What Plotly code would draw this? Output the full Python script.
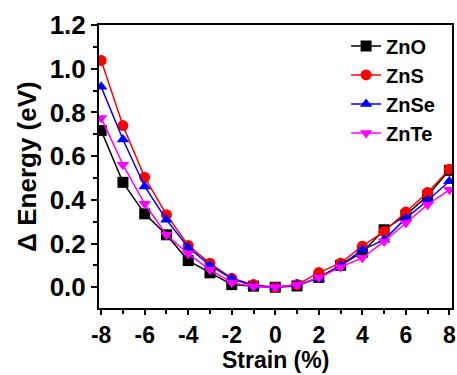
import plotly.graph_objects as go

strain = [-8, -7, -6, -5, -4, -3, -2, -1, 0, 1, 2, 3, 4, 5, 6, 7, 8]
zno = [0.717, 0.48, 0.336, 0.24, 0.122, 0.066, 0.012, 0.005, 0.0, 0.006, 0.045, 0.10, 0.16, 0.263, 0.33, 0.42, 0.535]
zns = [1.038, 0.74, 0.503, 0.332, 0.191, 0.11, 0.041, 0.012, 0.0, 0.012, 0.067, 0.11, 0.188, 0.255, 0.344, 0.434, 0.54]
znse = [0.917, 0.676, 0.461, 0.309, 0.182, 0.10, 0.04, 0.006, 0.0, 0.012, 0.04, 0.10, 0.171, 0.217, 0.316, 0.397, 0.485]
znte = [0.775, 0.561, 0.382, 0.24, 0.153, 0.08, 0.021, 0.003, 0.0, 0.01, 0.044, 0.092, 0.135, 0.209, 0.294, 0.378, 0.446]

names = ["ZnO", "ZnS", "ZnSe", "ZnTe"]
series = [zno, zns, znse, znte]
colors = ["#000000", "#ff0000", "#0000ff", "#ff00ff"]
symbols = ["square", "circle", "triangle-up", "triangle-down"]

fig = go.Figure()
for n, s, c, m in zip(names, series, colors, symbols):
    fig.add_trace(go.Scatter(
        x=strain, y=s, name=n, mode="lines+markers",
        line=dict(color=c, width=1.5),
        marker=dict(symbol=m, size=11, color=c),
    ))

font_family = "Liberation Sans, Arial, sans-serif"
fig.update_layout(
    width=457, height=375,
    margin=dict(l=99, r=5, t=25, b=67),
    paper_bgcolor="white", plot_bgcolor="white",
    font=dict(family=font_family, color="black"),
    showlegend=True,
    legend=dict(
        x=0.70, y=0.995, xanchor="left", yanchor="top",
        bgcolor="rgba(0,0,0,0)", borderwidth=0,
        font=dict(size=20, family=font_family, color="black", weight="bold"),
        itemwidth=30, tracegroupgap=0,
    ),
)
fig.update_xaxes(
    range=[-8.1, 8.12], tickmode="array",
    tickvals=[-8, -6, -4, -2, 0, 2, 4, 6, 8],
    ticktext=["-8", "-6", "-4", "-2", "0", "2", "4", "6", "8"],
    showline=True, linecolor="black", linewidth=2, mirror=True,
    ticks="outside", ticklen=5, tickwidth=2, tickcolor="black",
    minor=dict(dtick=1, ticks="outside", ticklen=4, tickwidth=1.5, tickcolor="black"),
    showgrid=False, zeroline=False, automargin=False,
    tickfont=dict(size=23, family=font_family, weight="bold"),
)
fig.add_annotation(
    text="Strain (%)", xref="paper", yref="paper", x=0.5, y=-67 / 283,
    xanchor="center", yanchor="bottom", yshift=1, borderpad=0, showarrow=False,
    font=dict(size=23, family=font_family, weight="bold", color="black"),
)
fig.update_yaxes(
    range=[-0.095, 1.2], tickmode="array",
    tickvals=[0.0, 0.2, 0.4, 0.6, 0.8, 1.0, 1.2],
    ticktext=["0.0", "0.2", "0.4", "0.6", "0.8", "1.0", "1.2"],
    showline=True, linecolor="black", linewidth=2, mirror=True,
    ticks="outside", ticklen=6, tickwidth=2, tickcolor="black",
    minor=dict(dtick=0.1, tick0=0, ticks="outside", ticklen=4, tickwidth=1.5, tickcolor="black"),
    showgrid=False, zeroline=False, automargin=False,
    tickfont=dict(size=26, family=font_family, weight="bold"),
    title=dict(text="Δ Energy (eV)", font=dict(size=26, family=font_family, weight="bold"), standoff=6),
)

fig.write_html("out.html")
